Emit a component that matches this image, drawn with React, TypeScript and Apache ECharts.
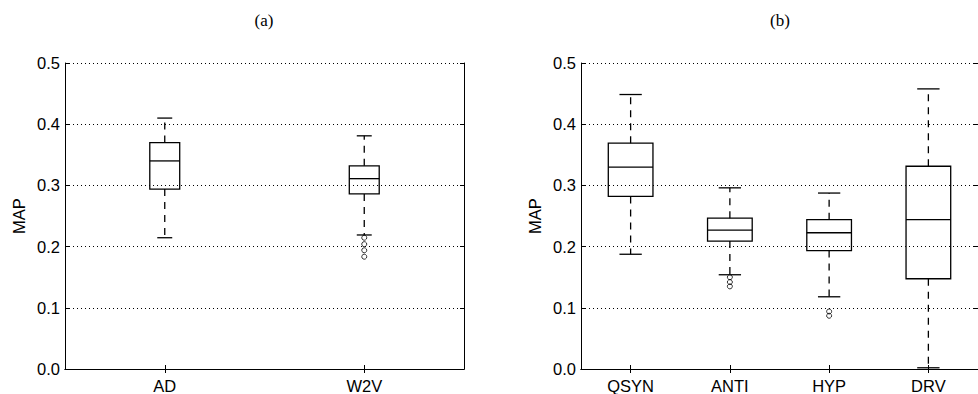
import React, { useEffect, useRef } from 'react';
import * as echarts from 'echarts';

// ---- Data ----
const categoriesA = ['AD', 'W2V'];
// [lower whisker, Q1, median, Q3, upper whisker]
const boxesA = [
  [0.2145, 0.294, 0.34, 0.37, 0.41],
  [0.219, 0.286, 0.311, 0.332, 0.381],
];
const outliersA = [
  [1, 0.2145],
  [1, 0.204],
  [1, 0.194],
  [1, 0.1835],
];

const categoriesB = ['QSYN', 'ANTI', 'HYP', 'DRV'];
const boxesB = [
  [0.1875, 0.282, 0.33, 0.369, 0.4485],
  [0.154, 0.209, 0.227, 0.2464, 0.296],
  [0.118, 0.1935, 0.2226, 0.244, 0.2875],
  [0.002, 0.1475, 0.2442, 0.3313, 0.4577],
];
const outliersB = [
  [1, 0.15],
  [1, 0.142],
  [1, 0.135],
  [2, 0.094],
  [2, 0.087],
];

const yTickLabels = ['0.0', '0.1', '0.2', '0.3', '0.4', '0.5'];
const panelTitles = ['(a)', '(b)'];
const yName = 'MAP';

const SANS = 'Liberation Sans';
const SERIF = 'Liberation Serif';
const FS = 16.5;

function makeRender(widthFrac: number) {
  return (params: any, api: any) => {
    const x = api.value(0);
    const band = api.size([1, 0])[0];
    const bw = band * widthFrac;
    const cw = bw / 2;
    const pMin = api.coord([x, api.value(1)]);
    const pQ1 = api.coord([x, api.value(2)]);
    const pMed = api.coord([x, api.value(3)]);
    const pQ3 = api.coord([x, api.value(4)]);
    const pMax = api.coord([x, api.value(5)]);
    const cx = pMed[0];
    const solid = { stroke: '#000', lineWidth: 1.3, fill: 'none' };
    const dashed = { stroke: '#000', lineWidth: 1.3, lineDash: [7, 6], fill: 'none' };
    return {
      type: 'group',
      children: [
        { type: 'line', shape: { x1: cx, y1: pQ1[1], x2: cx, y2: pMin[1] }, style: dashed },
        { type: 'line', shape: { x1: cx, y1: pQ3[1], x2: cx, y2: pMax[1] }, style: dashed },
        { type: 'line', shape: { x1: cx - cw / 2, y1: pMin[1], x2: cx + cw / 2, y2: pMin[1] }, style: solid },
        { type: 'line', shape: { x1: cx - cw / 2, y1: pMax[1], x2: cx + cw / 2, y2: pMax[1] }, style: solid },
        {
          type: 'rect',
          shape: { x: cx - bw / 2, y: pQ3[1], width: bw, height: pQ1[1] - pQ3[1] },
          style: solid,
        },
        { type: 'line', shape: { x1: cx - bw / 2, y1: pMed[1], x2: cx + bw / 2, y2: pMed[1] }, style: solid },
      ],
    };
  };
}

function xAxes(gridIndex: number, cats: string[]) {
  const common = {
    type: 'category',
    gridIndex,
    data: cats,
    boundaryGap: true,
    axisLine: { show: true, lineStyle: { color: '#000', width: 1 } },
    axisTick: { show: true, inside: true, alignWithLabel: true, length: 4, lineStyle: { color: '#000' } },
    splitLine: { show: false },
  };
  return [
    {
      ...common,
      position: 'bottom',
      axisLabel: { show: true, color: '#000', fontSize: FS, fontFamily: SANS, margin: 8 },
    },
    { ...common, position: 'top', axisLabel: { show: false } },
  ];
}

function yAxes(gridIndex: number) {
  const common = {
    type: 'value',
    gridIndex,
    min: 0,
    max: 0.5,
    interval: 0.1,
    axisLine: { show: true, lineStyle: { color: '#000', width: 1 } },
    axisTick: { show: true, inside: true, length: 4, lineStyle: { color: '#000' } },
  };
  return [
    {
      ...common,
      position: 'left',
      name: yName,
      nameLocation: 'middle',
      nameGap: 38,
      nameTextStyle: { color: '#000', fontSize: FS, fontFamily: SANS },
      axisLabel: {
        show: true,
        color: '#000',
        fontSize: FS,
        fontFamily: SANS,
        margin: 5,
        formatter: (v: number) => yTickLabels[Math.round(v * 10)] ?? '',
      },
      splitLine: { show: true, lineStyle: { color: '#000', width: 1, type: [1, 3] } },
    },
    { ...common, position: 'right', axisLabel: { show: false }, splitLine: { show: false } },
  ];
}

export default function App() {
  const ref = useRef<HTMLDivElement>(null);
  useEffect(() => {
    if (!ref.current) return;
    const chart = echarts.init(ref.current, null, { renderer: 'svg' });
    const titleStyle = { font: `17px "${SERIF}", serif`, fill: '#000', align: 'center', verticalAlign: 'middle' };
    const option: any = {
      animation: false,
      backgroundColor: '#fff',
      grid: [
        { left: 65, top: 63, width: 399, height: 311 },
        { left: 581, top: 63, width: 399, height: 309 },
      ],
      xAxis: [...xAxes(0, categoriesA), ...xAxes(1, categoriesB)],
      yAxis: [...yAxes(0), ...yAxes(1)],
      graphic: [
        { type: 'text', x: 264, y: 20, style: { ...titleStyle, text: panelTitles[0] } },
        { type: 'text', x: 780, y: 20, style: { ...titleStyle, text: panelTitles[1] } },
      ],
      series: [
        {
          type: 'custom',
          xAxisIndex: 0,
          yAxisIndex: 0,
          renderItem: makeRender(0.15),
          encode: { x: 0, y: [1, 2, 3, 4, 5] },
          data: boxesA.map((b, i) => [i, ...b]),
          z: 3,
        },
        {
          type: 'scatter',
          xAxisIndex: 0,
          yAxisIndex: 0,
          symbol: 'circle',
          symbolSize: 5,
          itemStyle: { color: 'rgba(0,0,0,0)', borderColor: '#000', borderWidth: 1 },
          data: outliersA,
          z: 4,
        },
        {
          type: 'custom',
          xAxisIndex: 2,
          yAxisIndex: 2,
          renderItem: makeRender(0.45),
          encode: { x: 0, y: [1, 2, 3, 4, 5] },
          data: boxesB.map((b, i) => [i, ...b]),
          z: 3,
        },
        {
          type: 'scatter',
          xAxisIndex: 2,
          yAxisIndex: 2,
          symbol: 'circle',
          symbolSize: 5,
          itemStyle: { color: 'rgba(0,0,0,0)', borderColor: '#000', borderWidth: 1 },
          data: outliersB,
          z: 4,
        },
      ],
    };
    chart.setOption(option);
    return () => chart.dispose();
  }, []);
  return (
    <div
      ref={ref}
      style={{ position: 'fixed', left: 0, top: 0, width: 978, height: 394, background: '#fff' }}
    />
  );
}
